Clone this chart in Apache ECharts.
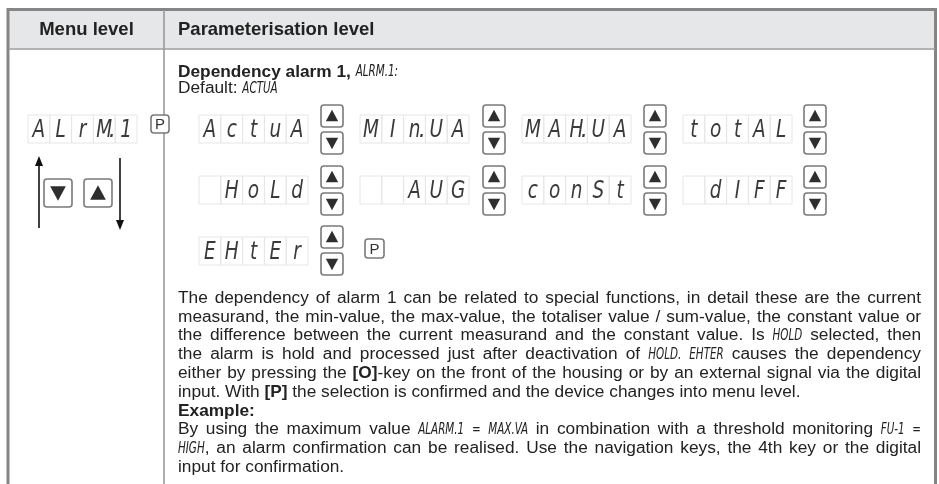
<!DOCTYPE html>
<html><head><meta charset="utf-8">
<script src="https://cdn.jsdelivr.net/npm/echarts@6/dist/echarts.min.js"></script>
<style>html,body{margin:0;padding:0;background:#fff}#c{width:939px;height:484px}</style>
</head><body><div id="c"></div>
<script>
// ---------- content ----------
const headerLabels = ['Menu level', 'Parameterisation level'];
const titleLine = '*Dependency alarm 1,* _ALRM.1:_';
const defaultLine = 'Default: _ACTUA_';
const menuDisplay = ['A', 'L', 'r', 'M.', '1'];
const displayRow1 = [['A','c','t','u','A'], ['M','I','n.','U','A'], ['M','A','H.','U','A'], ['t','o','t','A','L']];
const displayRow2 = [['','H','o','L','d'], ['','','A','U','G'], ['c','o','n','S','t'], ['','d','I','F','F']];
const displayRow3 = [['E','H','t','E','r']];
const keyLabel = 'P';
const paragraphLines = [
  'The dependency of alarm 1 can be related to special functions, in detail these are the current',
  'measurand, the min-value, the max-value, the totaliser value / sum-value, the constant value or',
  'the difference between the current measurand and the constant value. Is _HOLD_ selected, then',
  'the alarm is hold and processed just after deactivation of _HOLD. EHTER_ causes the dependency',
  'either by pressing the *[O]*-key on the front of the housing or by an external signal via the digital',
  'input. With *[P]* the selection is confirmed and the device changes into menu level.',
  '*Example:*',
  'By using the maximum value _ALARM.1 = MAX.VA_ in combination with a threshold monitoring _FU-1 =_',
  '_HIGH_, an alarm confirmation can be realised. Use the navigation keys, the 4th key or the digital',
  'input for confirmation.'
];
const justifyFlags = [1, 1, 1, 1, 1, 0, 0, 1, 1, 0];

// ---------- styling / layout ----------
const FONT = '"Liberation Sans", Arial, sans-serif';
const SEG = '"DejaVu Sans Condensed", "DejaVu Sans", sans-serif';
const TXT = '#222';
const BORDER = '#858585';
const styles = {
  n: {fontStyle: 'normal', fontWeight: 'normal', fontSize: 17.3, fontFamily: FONT, sx: 1},
  b: {fontStyle: 'normal', fontWeight: 'bold', fontSize: 17.3, fontFamily: FONT, sx: 1},
  i: {fontStyle: 'italic', fontWeight: 'normal', fontSize: 16, fontFamily: SEG, sx: 0.72}
};
const cv = document.createElement('canvas').getContext('2d');
function measure(t, st) {
  cv.font = st.fontStyle + ' ' + st.fontWeight + ' ' + st.fontSize + 'px ' + st.fontFamily;
  return cv.measureText(t).width * st.sx;
}
function parse(line) {
  const runs = [];
  line.split(/(\*[^*]+\*|_[^_]+_)/).forEach(p => {
    if (!p) return;
    if (p[0] === '*') runs.push({t: p.slice(1, -1), s: 'b'});
    else if (p[0] === '_') runs.push({t: p.slice(1, -1), s: 'i'});
    else runs.push({t: p, s: 'n'});
  });
  return runs;
}
const els = [];
function txt(x, y, t, st) {
  els.push({
    type: 'text', x: x, y: y, scaleX: st.sx, silent: true,
    style: {text: t, fontSize: st.fontSize, fontFamily: st.fontFamily, fontWeight: st.fontWeight,
      fontStyle: st.fontStyle, fill: TXT, align: 'left', verticalAlign: 'middle'}
  });
}
function layoutLine(line, x0, x1, y, justify) {
  const words = []; let cur = [];
  parse(line).forEach(r => {
    r.t.split(' ').forEach((part, i) => {
      if (i > 0) { if (cur.length) words.push(cur); cur = []; }
      if (part) cur.push({t: part, s: r.s});
    });
  });
  if (cur.length) words.push(cur);
  const widths = words.map(w => w.reduce((a, p) => a + measure(p.t, styles[p.s]), 0));
  const total = widths.reduce((a, b) => a + b, 0);
  const gap = justify && words.length > 1 ? (x1 - x0 - total) / (words.length - 1) : measure(' ', styles.n);
  let x = x0;
  words.forEach(w => {
    w.forEach(p => { txt(x, y, p.t, styles[p.s]); x += measure(p.t, styles[p.s]); });
    x += gap;
  });
}
function line(x1, y1, x2, y2, w, c) {
  els.push({type: 'line', silent: true, shape: {x1, y1, x2, y2}, style: {stroke: c, lineWidth: w}});
}
function keyBox(x, y, w, h) {
  els.push({type: 'rect', silent: true, shape: {x, y, width: w, height: h, r: 3},
    style: {fill: '#fff', stroke: '#7a7a7a', lineWidth: 1.6}});
}
function tri(x, y, w, h, up) {
  const pts = up ? [[x + w * 0.22, y + h * 0.74], [x + w * 0.78, y + h * 0.74], [x + w / 2, y + h * 0.22]]
                 : [[x + w * 0.22, y + h * 0.26], [x + w * 0.78, y + h * 0.26], [x + w / 2, y + h * 0.78]];
  els.push({type: 'polygon', silent: true, shape: {points: pts}, style: {fill: '#2e2e2e'}});
}
function arrowPair(x, y) {
  keyBox(x, y, 22, 22); tri(x, y, 22, 22, true);
  keyBox(x, y + 27, 22, 22); tri(x, y + 27, 22, 22, false);
}
function pKey(x, y, s) {
  keyBox(x, y, s, s);
  els.push({type: 'text', silent: true, x: x + s / 2, y: y + s / 2 + 1,
    style: {text: keyLabel, fontSize: 15, fontFamily: FONT, fill: '#333', align: 'center', verticalAlign: 'middle'}});
}
const segStyle = {fontSize: 25, fontFamily: SEG, fontStyle: 'italic', fontWeight: 'normal', fill: '#3a3a3a'};
function display(x, y, cells) {
  const cw = 21.8, ch = 28;
  cells.forEach((c, i) => {
    const cx = x + i * cw;
    els.push({type: 'rect', silent: true, shape: {x: cx, y: y, width: cw, height: ch},
      style: {fill: 'none', stroke: '#e6e6e6', lineWidth: 1}});
    if (!c) return;
    const ch0 = c.replace('.', '');
    els.push({type: 'text', silent: true, x: cx + cw / 2, y: y + ch / 2 + 1, scaleX: 0.82,
      style: Object.assign({text: ch0, align: 'center', verticalAlign: 'middle'}, segStyle)});
    if (c.indexOf('.') >= 0) {
      els.push({type: 'text', silent: true, x: cx + cw - 3, y: y + ch / 2 + 1,
        style: Object.assign({text: '.', align: 'center', verticalAlign: 'middle'}, segStyle)});
    }
  });
}

// ---------- table frame ----------
els.push({type: 'rect', silent: true, shape: {x: 9, y: 10, width: 926, height: 38}, style: {fill: '#e6e7e9'}});
line(7, 9.5, 937, 9.5, 3, BORDER);
line(8, 8, 8, 484, 3, BORDER);
line(935.5, 8, 935.5, 484, 3, BORDER);
line(9, 49, 935, 49, 1.6, '#9a9a9a');
line(164, 10, 164, 484, 1.6, '#9a9a9a');

const hst = {fontStyle: 'normal', fontWeight: 'bold', fontSize: 18.5, fontFamily: FONT, sx: 1};
els.push({type: 'text', silent: true, x: 86.5, y: 29.5,
  style: {text: headerLabels[0], fontSize: 18.5, fontWeight: 'bold', fontFamily: FONT, fill: TXT, align: 'center', verticalAlign: 'middle'}});
txt(178, 29.5, headerLabels[1], hst);

// ---------- parameter block ----------
layoutLine(titleLine, 178, 900, 72, false);
layoutLine(defaultLine, 178, 900, 88.5, false);

// menu level
display(28, 115, menuDisplay);
pKey(151, 115, 18);
line(39, 228, 39, 162, 1.6, '#111');
els.push({type: 'polygon', silent: true, shape: {points: [[35, 166], [43, 166], [39, 156]]}, style: {fill: '#111'}});
line(120, 158, 120, 224, 1.6, '#111');
els.push({type: 'polygon', silent: true, shape: {points: [[116, 220], [124, 220], [120, 230]]}, style: {fill: '#111'}});
keyBox(44, 179, 28, 28); tri(44, 179, 28, 28, false);
keyBox(84, 179, 28, 28); tri(84, 179, 28, 28, true);

const dispX = [199, 360, 522, 683];
const arrX = [321, 483, 644, 804];
[[displayRow1, 115, 105], [displayRow2, 176, 166], [displayRow3, 237, 226]].forEach(([row, dy, ay]) => {
  row.forEach((cells, i) => { display(dispX[i], dy, cells); arrowPair(arrX[i], ay); });
});
pKey(365, 239, 19);

// ---------- paragraph ----------
paragraphLines.forEach((l, i) => layoutLine(l, 178, 921, 298 + i * 18.8, justifyFlags[i] === 1));

const chart = echarts.init(document.getElementById('c'), null, {renderer: 'canvas'});
chart.setOption({animation: false, graphic: {elements: els}});
</script>
</body></html>
